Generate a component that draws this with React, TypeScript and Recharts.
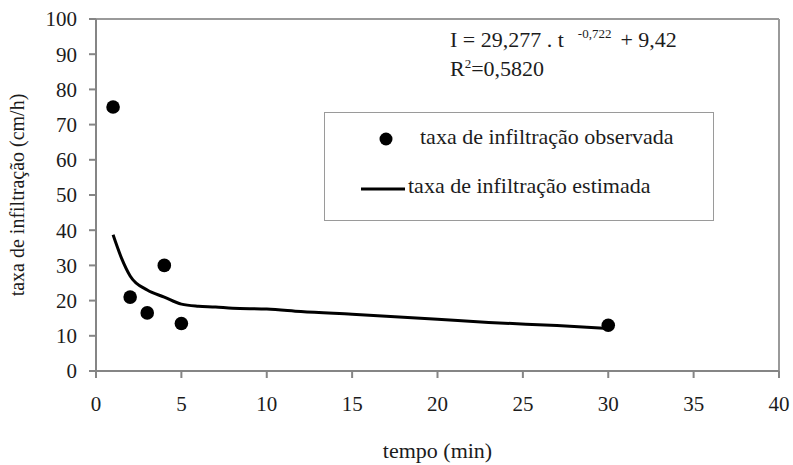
import {
  ComposedChart,
  Scatter,
  Line,
  XAxis,
  YAxis,
  Legend,
  ReferenceLine,
} from 'recharts';

// observed infiltration rate
const tempoObs = [1, 2, 3, 4, 5, 30];
const taxaObs = [75, 21, 16.5, 30, 13.5, 13];

// estimated curve
const tempoEst = [1, 1.5, 2, 3, 4, 5, 6, 7, 8, 10, 12, 15, 20, 23, 27, 30];
const taxaEst = [38.7, 32, 27, 23, 21, 19, 18.4, 18.2, 17.8, 17.6, 16.9, 16.1, 14.7, 13.8, 12.9, 12.1];

const xTicks = [0, 5, 10, 15, 20, 25, 30, 35, 40];
const yTicks = [0, 10, 20, 30, 40, 50, 60, 70, 80, 90, 100];

const obsData = tempoObs.map((x, i) => ({ x, y: taxaObs[i] }));
const estData = tempoEst.map((x, i) => ({ x, y: taxaEst[i] }));

const FONT = 'Liberation Serif, DejaVu Serif, serif';
const AXIS = '#858585';
const INK = '#1c1c1c';

function LegendBox() {
  return (
    <div
      style={{
        width: 388,
        height: 107,
        border: '1.5px solid #9a9a9a',
        background: '#fff',
        fontFamily: FONT,
        fontSize: 22,
        color: INK,
        position: 'relative',
      }}
    >
      <svg width={20} height={20} style={{ position: 'absolute', left: 51, top: 16 }}>
        <circle cx={10} cy={10} r={6.5} fill="#000" />
      </svg>
      <span style={{ position: 'absolute', left: 95, top: 11, whiteSpace: 'nowrap' }}>
        taxa de infiltração observada
      </span>
      <svg width={44} height={6} style={{ position: 'absolute', left: 36, top: 73 }}>
        <line x1={0} y1={3} x2={44} y2={3} stroke="#000" strokeWidth={3} />
      </svg>
      <span style={{ position: 'absolute', left: 83, top: 60, whiteSpace: 'nowrap' }}>
        taxa de infiltração estimada
      </span>
    </div>
  );
}

export default function App() {
  return (
    <div style={{ position: 'relative', width: 793, height: 465, background: '#fff', fontFamily: FONT }}>
      <style>{`body{margin:0}`}</style>
      <ComposedChart
        width={793}
        height={465}
        margin={{ top: 19, right: 14, bottom: 0, left: 0 }}
      >
        <XAxis
          dataKey="x"
          type="number"
          domain={[0, 40]}
          ticks={xTicks}
          height={94}
          stroke={AXIS}
          strokeWidth={2}
          tickSize={7}
          tickMargin={18}
          tick={{ fill: INK, fontSize: 21, fontFamily: FONT }}
          label={{
            value: 'tempo (min)',
            position: 'insideBottom',
            offset: 7,
            fill: INK,
            fontSize: 22,
            fontFamily: FONT,
          }}
        />
        <YAxis
          dataKey="y"
          type="number"
          domain={[0, 100]}
          ticks={yTicks}
          width={96}
          stroke={AXIS}
          strokeWidth={2}
          tickSize={7}
          tickMargin={12}
          tick={{ fill: INK, fontSize: 21, fontFamily: FONT }}
          label={{
            content: () => (
              <text
                x={24}
                y={195}
                transform="rotate(-90 24 195)"
                textAnchor="middle"
                fill={INK}
                fontSize={20}
                fontFamily={FONT}
              >
                taxa de infiltração (cm/h)
              </text>
            ),
          }}
        />
        <ReferenceLine y={100} stroke="#9a9a9a" strokeWidth={2} ifOverflow="extendDomain" />
        <ReferenceLine x={40} stroke="#9a9a9a" strokeWidth={2} ifOverflow="extendDomain" />
        <Legend
          layout="horizontal"
          verticalAlign="middle"
          align="center"
          wrapperStyle={{ left: 324, top: 112, width: 390, height: 110 }}
          content={() => <LegendBox />}
        />
        <Line
          data={estData}
          dataKey="y"
          type="monotone"
          stroke="#000"
          strokeWidth={3}
          dot={false}
          activeDot={false}
          legendType="line"
          isAnimationActive={false}
        />
        <Scatter
          data={obsData}
          dataKey="y"
          fill="#000"
          shape={(p: any) => <circle cx={p.cx} cy={p.cy} r={6.8} fill="#000" />}
          isAnimationActive={false}
        />
      </ComposedChart>
      <div
        style={{
          position: 'absolute',
          left: 450,
          top: 27,
          fontFamily: FONT,
          fontSize: 22,
          color: INK,
          whiteSpace: 'nowrap',
          lineHeight: '26px',
        }}
      >
        <div>
          I = 29,277 . t
          <span style={{ fontSize: 13, position: 'relative', top: -9, marginLeft: 14, marginRight: 9 }}>
            -0,722
          </span>
          + 9,42
        </div>
        <div>
          R<sup style={{ fontSize: 13, verticalAlign: 'top', lineHeight: '16px' }}>2</sup>=0,5820
        </div>
      </div>
    </div>
  );
}
